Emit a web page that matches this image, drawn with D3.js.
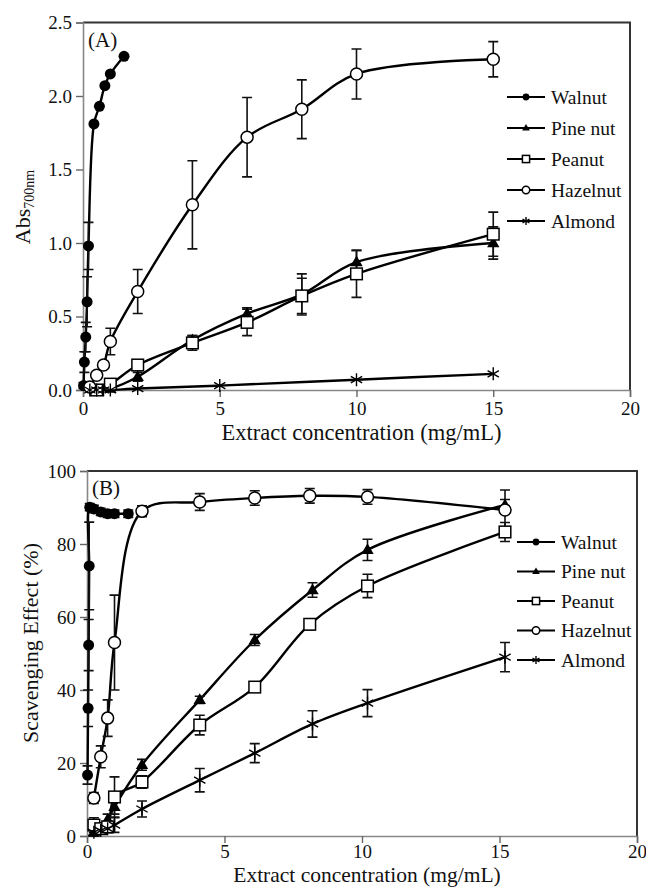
<!DOCTYPE html>
<html><head><meta charset="utf-8">
<script src="https://cdn.jsdelivr.net/npm/d3@7"></script>
<style>body{margin:0;background:#fff}svg{display:block}text{font-family:"Liberation Serif","Times New Roman","DejaVu Serif",serif;fill:#111}</style>
</head><body>
<script>
// ---------- Data ----------
const seriesNames = ["Walnut","Pine nut","Peanut","Hazelnut","Almond"];
const xTicks = [0,5,10,15,20];
const yTicksA = [0,0.5,1.0,1.5,2.0,2.5];
const yTicksB = [0,20,40,60,80,100];

// Panel A: reducing power (Abs 700nm)
const walnutAx = [0.02,0.05,0.1,0.15,0.2,0.4,0.6,0.8,1.0,1.5];
const walnutAy = [0.03,0.19,0.36,0.60,0.98,1.81,1.93,2.07,2.15,2.27];
const walnutAe = [0.02,0.07,0.1,0.17,0.16,0,0,0,0,0];
const pineAx = [0.5,1,2,4,6,8,10,15];
const pineAy = [0.0,0.01,0.09,0.34,0.52,0.65,0.87,1.0];
const pineAe = [0,0,0.03,0.03,0.04,0.14,0.08,0.11];
const peanutAx = [0.5,1,2,4,6,8,10,15];
const peanutAy = [0.0,0.04,0.17,0.32,0.46,0.64,0.79,1.06];
const peanutAe = [0,0.01,0.02,0.05,0.09,0.12,0.16,0.15];
const hazelAx = [0.25,0.5,0.75,1,2,4,6,8,10,15];
const hazelAy = [0.02,0.1,0.17,0.33,0.67,1.26,1.72,1.91,2.15,2.25];
const hazelAe = [0.01,0.02,0.02,0.09,0.15,0.3,0.27,0.2,0.17,0.12];
const almondAx = [0.25,0.5,0.75,1,2,5,10,15];
const almondAy = [0,0,0,0,0.01,0.03,0.07,0.11];
const almondAe = [0,0,0,0,0,0,0,0];

// Panel B: scavenging effect (%)
const walnutBx = [0.02,0.04,0.06,0.08,0.1,0.25,0.5,0.75,1.0,1.5];
const walnutBy = [16.7,35,52.3,74,90.1,89.6,88.8,88.3,88.3,88.3];
const walnutBe = [2.5,5,7,12,1,1,1,1,1,1];
const pineBx = [0.25,0.5,0.75,1,2,4.1,6.1,8.2,10.2,15.2];
const pineBy = [1,2,4.5,8,19.5,37.3,53.7,67.4,78.4,90.7];
const pineBe = [1,1,1.5,2,1.5,1,1.5,2,2.9,1.5];
const peanutBx = [0.25,0.5,0.75,1,2,4.1,6.1,8.1,10.2,15.2];
const peanutBy = [3,2,2.5,10.7,14.8,30.4,40.8,58,68.5,83.3];
const peanutBe = [2,1.5,1.5,5.5,1.7,2.7,1.2,1.5,3.2,2.6];
const hazelBx = [0.25,0.5,0.75,1,2,4.1,6.1,8.1,10.2,15.2];
const hazelBy = [10.4,21.7,32.3,53,89,91.5,92.6,93.2,92.9,89.3];
const hazelBe = [1.5,3,5,13,1.5,2.3,2,2,2,5.5];
const almondBx = [0.25,0.5,0.75,1,2,4.1,6.1,8.2,10.2,15.2];
const almondBy = [1,1.5,2,3,7.4,15.3,22.7,30.7,36.4,49];
const almondBe = [1,1,1,2,2.2,3.2,2.6,3.6,3.7,4];

const xTitle = "Extract concentration (mg/mL)";

// ---------- Drawing ----------
const W = 646, H = 887;
const FONT = "'Liberation Serif','Times New Roman','DejaVu Serif',serif";
const svg = d3.select("body").append("svg").attr("width", W).attr("height", H);

function zipS(xs, ys, es){ return xs.map((x,i)=>({x, y:ys[i], e:es[i]})); }

function marker(g, type, cx, cy, s){
  if(type==="Walnut"){
    g.append("circle").attr("cx",cx).attr("cy",cy).attr("r",5.5*s).attr("fill","#000");
  } else if(type==="Pine nut"){
    const r = 6.5*s;
    g.append("path").attr("d",`M${cx},${cy-r}L${cx+r*0.95},${cy+r*0.65}L${cx-r*0.95},${cy+r*0.65}Z`).attr("fill","#000");
  } else if(type==="Peanut"){
    const h = 5.8*s;
    g.append("rect").attr("x",cx-h).attr("y",cy-h).attr("width",2*h).attr("height",2*h)
      .attr("fill","#fff").attr("stroke","#000").attr("stroke-width",1.5);
  } else if(type==="Hazelnut"){
    g.append("circle").attr("cx",cx).attr("cy",cy).attr("r",6*s).attr("fill","#fff").attr("stroke","#000").attr("stroke-width",1.5);
  } else {
    const r = 6.5*s;
    const a = r*0.87, b = r*0.5;
    g.append("path").attr("d",`M${cx},${cy-r}L${cx},${cy+r}M${cx-a},${cy-b}L${cx+a},${cy+b}M${cx-a},${cy+b}L${cx+a},${cy-b}`)
      .attr("stroke","#000").attr("stroke-width",1.4).attr("fill","none");
  }
}

function panel(cfg){
  const x = d3.scaleLinear().domain([0,20]).range([cfg.x0, cfg.x1]);
  const y = d3.scaleLinear().domain(cfg.ydom).range([cfg.y0, cfg.y1]);
  const g = svg.append("g");
  g.append("path").attr("d",`M${cfg.x0},${cfg.y1}H${cfg.x1}V${cfg.y0}`).attr("stroke","#333").attr("stroke-width",2).attr("fill","none");
  const ax = g.append("g").attr("transform",`translate(0,${cfg.y0})`)
    .call(d3.axisBottom(x).tickValues(xTicks).tickSize(7).tickPadding(cfg.xpad).tickFormat(d3.format("d")));
  const ay = g.append("g").attr("transform",`translate(${cfg.x0},0)`)
    .call(d3.axisLeft(y).tickValues(cfg.yticks).tickSize(7).tickPadding(4).tickFormat(cfg.yfmt));
  [ax,ay].forEach(a=>{
    a.attr("font-family",FONT).attr("font-size",19);
    a.select(".domain").attr("stroke","#888").attr("stroke-width",1.6);
    a.selectAll(".tick line").attr("stroke","#666").attr("stroke-width",1.4);
    a.selectAll("text").style("font-family",FONT).style("font-size","19px").attr("fill","#222");
  });
  g.append("text").attr("x",cfg.x0+5).attr("y",cfg.y1+24).style("font-size","21px").text(cfg.label);

  const line = d3.line().x(d=>x(d.x)).y(d=>y(d.y)).curve(d3.curveCatmullRom.alpha(0.5));
  cfg.series.forEach(s=>{
    g.append("path").datum(s.data).attr("d",line).attr("fill","none").attr("stroke","#000").attr("stroke-width",2.4);
  });
  cfg.series.forEach(s=>{
    s.data.filter(d=>d.e>0).forEach(d=>{
      const xa = x(d.x), yt = y(d.y+d.e), yb = y(d.y-d.e);
      g.append("path").attr("d",`M${xa},${yt}V${yb}M${xa-5},${yt}H${xa+5}M${xa-5},${yb}H${xa+5}`)
        .attr("stroke","#111").attr("stroke-width",1.6).attr("fill","none");
    });
  });
  cfg.series.forEach(s=>{
    s.data.forEach(d=> marker(g, s.name, x(d.x), y(d.y), 1));
  });
  const lg = g.append("g");
  seriesNames.forEach((n,i)=>{
    const ly = cfg.legY + i*cfg.legDy;
    lg.append("line").attr("x1",cfg.legX).attr("x2",cfg.legX+38).attr("y1",ly).attr("y2",ly).attr("stroke","#000").attr("stroke-width",1.8);
    marker(lg, n, cfg.legX+19, ly, 0.62);
    lg.append("text").attr("x",cfg.legX+44).attr("y",ly).attr("dy","0.35em").style("font-size","19.5px").text(n);
  });
  g.append("text").attr("x",(cfg.x0+cfg.x1)/2+5).attr("y",cfg.xtY).attr("text-anchor","middle").style("font-size",cfg.xtSize).text(xTitle);
  return {x,y,g};
}

const pA = panel({x0:83,x1:630,y0:390,y1:22.5,ydom:[0,2.5],yticks:yTicksA,yfmt:d3.format(".1f"),label:"(A)",
  legX:507, legY:97, legDy:31, xtY:440, xpad:5, xtSize:"22.5px",
  series:[
    {name:"Walnut",data:zipS(walnutAx,walnutAy,walnutAe)},
    {name:"Pine nut",data:zipS(pineAx,pineAy,pineAe)},
    {name:"Peanut",data:zipS(peanutAx,peanutAy,peanutAe)},
    {name:"Hazelnut",data:zipS(hazelAx,hazelAy,hazelAe)},
    {name:"Almond",data:zipS(almondAx,almondAy,almondAe)}
  ]});
const ytA = pA.g.append("text").attr("transform","translate(30,207) rotate(-90)").attr("text-anchor","middle").style("font-size","22px");
ytA.append("tspan").text("Abs");
ytA.append("tspan").attr("dy","0.3em").style("font-size","14px").text("700nm");

const pB = panel({x0:87,x1:637,y0:836,y1:471,ydom:[0,100],yticks:yTicksB,yfmt:d3.format("d"),label:"(B)",
  legX:517, legY:542, legDy:29.5, xtY:882, xpad:2, xtSize:"21.5px",
  series:[
    {name:"Walnut",data:zipS(walnutBx,walnutBy,walnutBe)},
    {name:"Pine nut",data:zipS(pineBx,pineBy,pineBe)},
    {name:"Peanut",data:zipS(peanutBx,peanutBy,peanutBe)},
    {name:"Hazelnut",data:zipS(hazelBx,hazelBy,hazelBe)},
    {name:"Almond",data:zipS(almondBx,almondBy,almondBe)}
  ]});
pB.g.append("text").attr("transform","translate(38,643) rotate(-90)").attr("text-anchor","middle").style("font-size","22px").text("Scavenging Effect (%)");
</script>
</body></html>
